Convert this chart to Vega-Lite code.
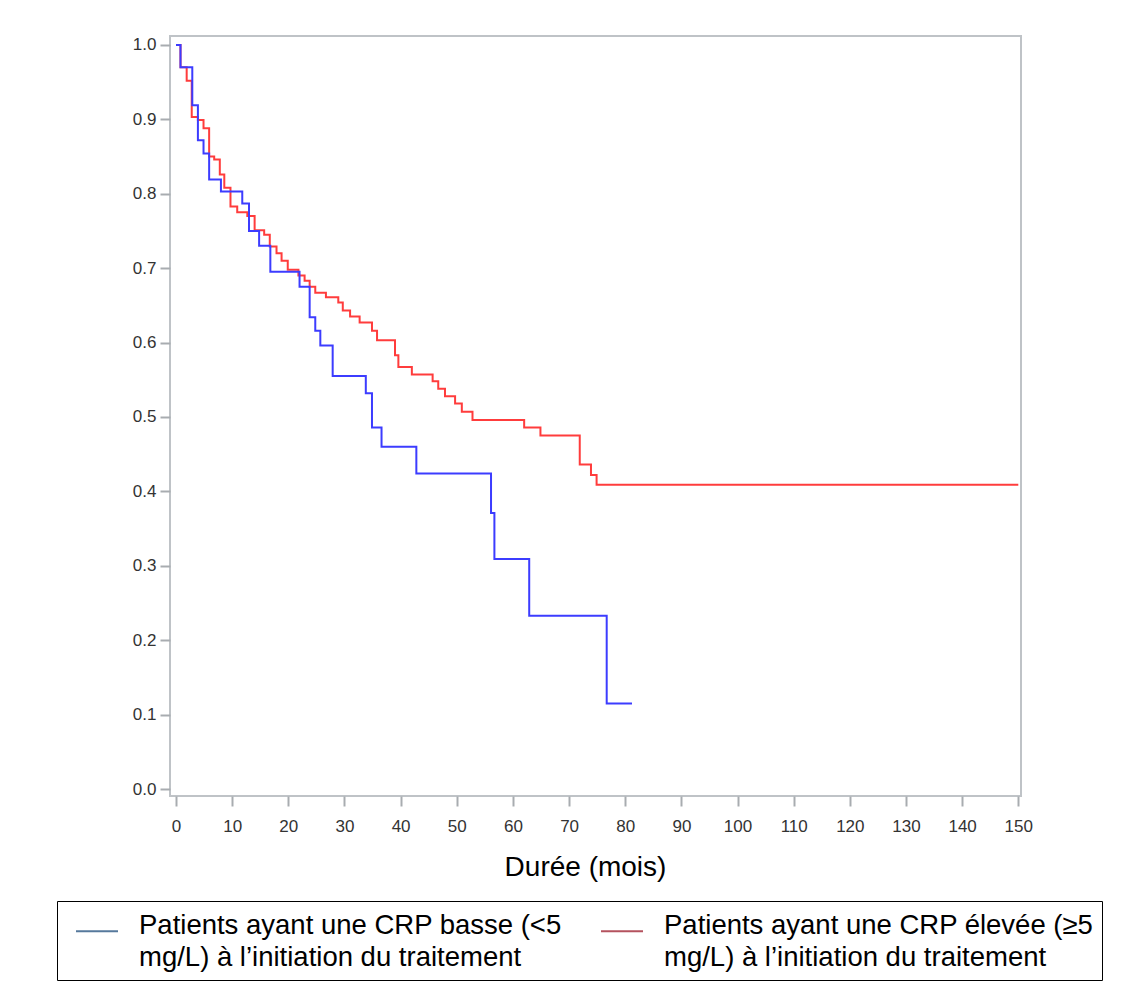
{
  "$schema": "https://vega.github.io/schema/vega-lite/v6.json",
  "width": 851,
  "height": 760,
  "autosize": {"type": "none"},
  "padding": {"left": 170, "top": 36, "right": 114, "bottom": 205},
  "background": "white",
  "data": {"values": [
    {"g": "elevee", "t": 0, "s": 1.0},
    {"g": "elevee", "t": 0.8, "s": 0.970},
    {"g": "elevee", "t": 1.9, "s": 0.952},
    {"g": "elevee", "t": 2.8, "s": 0.903},
    {"g": "elevee", "t": 3.9, "s": 0.899},
    {"g": "elevee", "t": 4.9, "s": 0.888},
    {"g": "elevee", "t": 5.9, "s": 0.850},
    {"g": "elevee", "t": 6.8, "s": 0.846},
    {"g": "elevee", "t": 7.8, "s": 0.826},
    {"g": "elevee", "t": 8.6, "s": 0.808},
    {"g": "elevee", "t": 9.7, "s": 0.783},
    {"g": "elevee", "t": 10.9, "s": 0.775},
    {"g": "elevee", "t": 12.7, "s": 0.770},
    {"g": "elevee", "t": 14.0, "s": 0.751},
    {"g": "elevee", "t": 15.7, "s": 0.745},
    {"g": "elevee", "t": 16.7, "s": 0.729},
    {"g": "elevee", "t": 17.9, "s": 0.720},
    {"g": "elevee", "t": 18.8, "s": 0.710},
    {"g": "elevee", "t": 19.9, "s": 0.698},
    {"g": "elevee", "t": 21.8, "s": 0.690},
    {"g": "elevee", "t": 22.9, "s": 0.683},
    {"g": "elevee", "t": 23.8, "s": 0.675},
    {"g": "elevee", "t": 24.8, "s": 0.667},
    {"g": "elevee", "t": 26.7, "s": 0.661},
    {"g": "elevee", "t": 28.9, "s": 0.654},
    {"g": "elevee", "t": 29.7, "s": 0.643},
    {"g": "elevee", "t": 31.0, "s": 0.635},
    {"g": "elevee", "t": 32.7, "s": 0.627},
    {"g": "elevee", "t": 34.9, "s": 0.616},
    {"g": "elevee", "t": 35.8, "s": 0.603},
    {"g": "elevee", "t": 39.0, "s": 0.583},
    {"g": "elevee", "t": 39.6, "s": 0.567},
    {"g": "elevee", "t": 42.0, "s": 0.557},
    {"g": "elevee", "t": 45.7, "s": 0.548},
    {"g": "elevee", "t": 46.7, "s": 0.538},
    {"g": "elevee", "t": 47.9, "s": 0.528},
    {"g": "elevee", "t": 49.7, "s": 0.518},
    {"g": "elevee", "t": 50.9, "s": 0.507},
    {"g": "elevee", "t": 52.8, "s": 0.496},
    {"g": "elevee", "t": 62.0, "s": 0.486},
    {"g": "elevee", "t": 64.9, "s": 0.475},
    {"g": "elevee", "t": 71.9, "s": 0.436},
    {"g": "elevee", "t": 73.9, "s": 0.422},
    {"g": "elevee", "t": 74.9, "s": 0.409},
    {"g": "elevee", "t": 150, "s": 0.409},
    {"g": "basse", "t": 0, "s": 1.0},
    {"g": "basse", "t": 0.8, "s": 0.970},
    {"g": "basse", "t": 2.9, "s": 0.919},
    {"g": "basse", "t": 3.9, "s": 0.872},
    {"g": "basse", "t": 4.9, "s": 0.854},
    {"g": "basse", "t": 5.9, "s": 0.819},
    {"g": "basse", "t": 8.0, "s": 0.803},
    {"g": "basse", "t": 11.8, "s": 0.787},
    {"g": "basse", "t": 13.0, "s": 0.750},
    {"g": "basse", "t": 14.8, "s": 0.730},
    {"g": "basse", "t": 16.8, "s": 0.695},
    {"g": "basse", "t": 22.0, "s": 0.675},
    {"g": "basse", "t": 23.8, "s": 0.634},
    {"g": "basse", "t": 24.8, "s": 0.616},
    {"g": "basse", "t": 25.7, "s": 0.596},
    {"g": "basse", "t": 27.9, "s": 0.555},
    {"g": "basse", "t": 33.8, "s": 0.532},
    {"g": "basse", "t": 34.9, "s": 0.486},
    {"g": "basse", "t": 36.6, "s": 0.460},
    {"g": "basse", "t": 42.8, "s": 0.424},
    {"g": "basse", "t": 56.1, "s": 0.371},
    {"g": "basse", "t": 56.7, "s": 0.309},
    {"g": "basse", "t": 62.9, "s": 0.233},
    {"g": "basse", "t": 76.7, "s": 0.115},
    {"g": "basse", "t": 81.2, "s": 0.115}
  ]},
  "encoding": {
    "x": {
      "field": "t", "type": "quantitative",
      "scale": {"domain": [-1.07, 150.48], "nice": false, "zero": false},
      "axis": {
        "values": [0, 10, 20, 30, 40, 50, 60, 70, 80, 90, 100, 110, 120, 130, 140, 150],
        "title": "Durée (mois)",
        "titleFont": "Liberation Sans", "titleFontSize": 28, "titleFontWeight": "normal", "titleColor": "#000",
        "titlePadding": 19, "titleX": 415,
        "labelFont": "Liberation Sans", "labelFontSize": 17, "labelColor": "#333",
        "labelPadding": 12, "tickSize": 10, "tickColor": "#a8acb0", "tickWidth": 2,
        "domain": false, "grid": false
      }
    },
    "y": {
      "field": "s", "type": "quantitative",
      "scale": {"domain": [-0.0094, 1.012], "nice": false, "zero": false},
      "axis": {
        "values": [0, 0.1, 0.2, 0.3, 0.4, 0.5, 0.6, 0.7, 0.8, 0.9, 1.0],
        "format": ".1f", "title": null,
        "labelFont": "Liberation Sans", "labelFontSize": 17, "labelColor": "#333",
        "labelPadding": 4, "tickSize": 10, "tickColor": "#a8acb0", "tickWidth": 2,
        "domain": false, "grid": false
      }
    }
  },
  "layer": [
    {
      "mark": {"type": "line", "interpolate": "step-after", "strokeWidth": 2, "clip": true, "strokeOpacity": 0},
      "encoding": {
        "color": {
          "field": "g", "type": "nominal",
          "scale": {"domain": ["basse", "elevee"], "range": ["#56799c", "#b4525e"]},
          "legend": {
            "orient": "none", "legendX": -113, "legendY": 865,
            "direction": "horizontal", "columns": 2, "title": null,
            "strokeColor": "#000", "padding": 8,
            "symbolType": "stroke", "symbolSize": 1764, "symbolStrokeWidth": 2,
            "symbolOpacity": 1, "symbolOffset": 10,
            "labelFont": "Liberation Sans", "labelFontSize": 27.5, "labelColor": "#000",
            "labelLimit": 700, "labelOffset": 20, "columnPadding": 28,
            "labelBaseline": "top",
            "labelExpr": "datum.value == 'basse' ? ['Patients ayant une CRP basse (<5', 'mg/L) à l’initiation du traitement'] : ['Patients ayant une CRP élevée (≥5', 'mg/L) à l’initiation du traitement']",
            "encode": {
              "symbols": {"update": {"strokeOpacity": {"value": 1}}},
              "labels": {"update": {"lineHeight": {"value": 32}, "dy": {"value": -19}}}
            }
          }
        }
      }
    },
    {
      "mark": {"type": "line", "interpolate": "step-after", "strokeWidth": 2, "clip": true},
      "encoding": {
        "stroke": {
          "field": "g", "type": "nominal",
          "scale": {"domain": ["basse", "elevee"], "range": ["#3c3cff", "#ff3c3c"]},
          "legend": null
        }
      }
    }
  ],
  "config": {"view": {"stroke": "#bfc3c7", "strokeWidth": 2}}
}
